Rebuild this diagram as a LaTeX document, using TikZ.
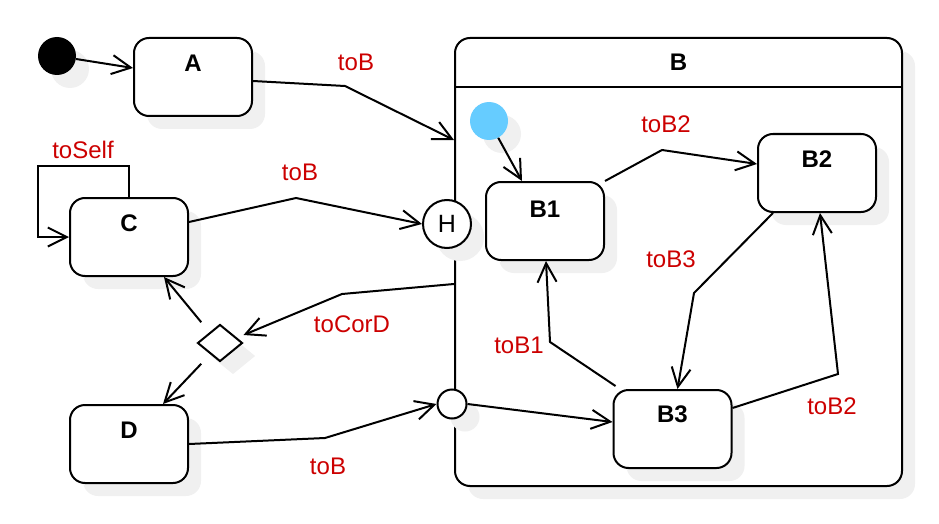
\documentclass[tikz,border=0pt]{standalone}
\usepackage{fontspec}
\setmainfont{Liberation Sans}
\usetikzlibrary{arrows.meta,shapes.geometric,shadows}
\definecolor{lblred}{RGB}{204,0,0}
\definecolor{initblue}{RGB}{102,204,255}
\definecolor{shadowgray}{RGB}{240,240,240}
\begin{document}
\begin{tikzpicture}[x=1pt,y=-1pt,
  sh/.style={general shadow={fill=shadowgray, shadow xshift=13pt, shadow yshift=-13pt}},
  state/.style={draw, line width=2pt, fill=white, rounded corners=15pt,
    minimum width=118pt, minimum height=78pt, inner sep=0pt, sh},
  boxlbl/.style={anchor=center, yshift=-26pt, font=\fontsize{24}{29}\selectfont\bfseries},
  lbl/.style={text=lblred, font=\fontsize{24}{29}\selectfont, inner sep=0pt},
  conn/.style={line width=2pt, -{Straight Barb[length=19pt,width=19pt]}},
  plain/.style={line width=2pt}
]
\useasboundingbox (0,0) rectangle (939,524);
% nodes
\node[circle, fill=black, minimum size=38pt, inner sep=0pt, sh] (init) at (57,56) {};
\node[state, label={[boxlbl]north:A}] (A) at (193,77) {};
\node[draw, line width=2pt, fill=white, rounded corners=15pt, minimum width=447pt,
  minimum height=448pt, inner sep=0pt, sh, label={[boxlbl, yshift=1pt]north:B}] (B) at (678.5,262) {};
\draw[plain] (B.west |- 0,87) -- (B.east |- 0,87);
\node[state, label={[boxlbl]north:C}] (C) at (129,237) {};
\node[state, label={[boxlbl]north:D}] (D) at (129,444) {};
\node[diamond, draw, line width=2pt, fill=white, minimum width=45pt, minimum height=37pt, inner sep=0pt, sh] (dia) at (220,343) {};
\node[circle, draw, line width=2pt, fill=white, minimum size=48pt, inner sep=0pt, sh,
  font=\fontsize{25}{30}\selectfont] (H) at (447,224) {H};
\node[circle, draw, line width=2pt, fill=white, minimum size=29pt, inner sep=0pt, sh] (entry) at (452,404) {};
\node[circle, fill=initblue, minimum size=38pt, inner sep=0pt, sh] (binit) at (489,121) {};
\node[state, label={[boxlbl, yshift=-2pt]north:B1}] (B1) at (545,221) {};
\node[state, label={[boxlbl]north:B2}] (B2) at (817,173) {};
\node[state, label={[boxlbl, yshift=1pt]north:B3}] (B3) at (672.5,429) {};
% labels
\node[lbl] (lAB) at (356,62) {toB};
\node[lbl] (lSelf) at (83,150) {toSelf};
\node[lbl] (lCH) at (300,172) {toB};
\node[lbl] (lCD) at (352,324) {toCorD};
\node[lbl] (lDB) at (328,466) {toB};
\node[lbl] (lB2a) at (666,124) {toB2};
\node[lbl] (lB3) at (671,259) {toB3};
\node[lbl] (lB1) at (519,345) {toB1};
\node[lbl] (lB2b) at (832,406) {toB2};
% waypoints
\coordinate (wAB) at (345,86);
\coordinate (wCH) at (296,198);
\coordinate (wBD) at (342,294);
\coordinate (wDE) at (325,438);
\coordinate (w12) at (662,150);
\coordinate (w23) at (694,293);
\coordinate (w31) at (550,342);
\coordinate (w32) at (838,374);
% connectors
\draw[conn] (init) -- ([yshift=9pt]A.west);
\draw[conn] ([yshift=-4pt]A.east) -- (wAB) -- ([yshift=122pt]B.west);
\draw[conn] (C.north) |- (38,166) |- (C.west);
\draw[conn] ([yshift=15pt]C.east) -- (wCH) -- (H.west);
\draw[conn] ([yshift=-22pt]B.west) -- (wBD) -- ([yshift=8pt]dia.east);
\draw[conn] ([xshift=-7pt,yshift=11pt]dia.north west) -- ([xshift=35pt]C.south);
\draw[conn] ([xshift=-7pt,yshift=-11pt]dia.south west) -- ([xshift=34pt]D.north);
\draw[conn] (D.east) -- (wDE) -- (entry.west);
\draw[conn] (entry.east) -- ([yshift=7pt]B3.west);
\draw[conn] (binit) -- ([xshift=-23pt]B1.north);
\draw[conn] (B1.north east) -- (w12) -- ([yshift=9pt]B2.west);
\draw[conn] ([xshift=16pt]B2.south west) -- (w23) -- ([xshift=5pt]B3.north);
\draw[conn] ([xshift=3pt,yshift=3pt]B3.north west) -- (w31) -- ([xshift=1pt]B1.south);
\draw[conn] ([yshift=21pt]B3.east) -- (w32) -- ([xshift=3pt]B2.south);
\end{tikzpicture}
\end{document}
